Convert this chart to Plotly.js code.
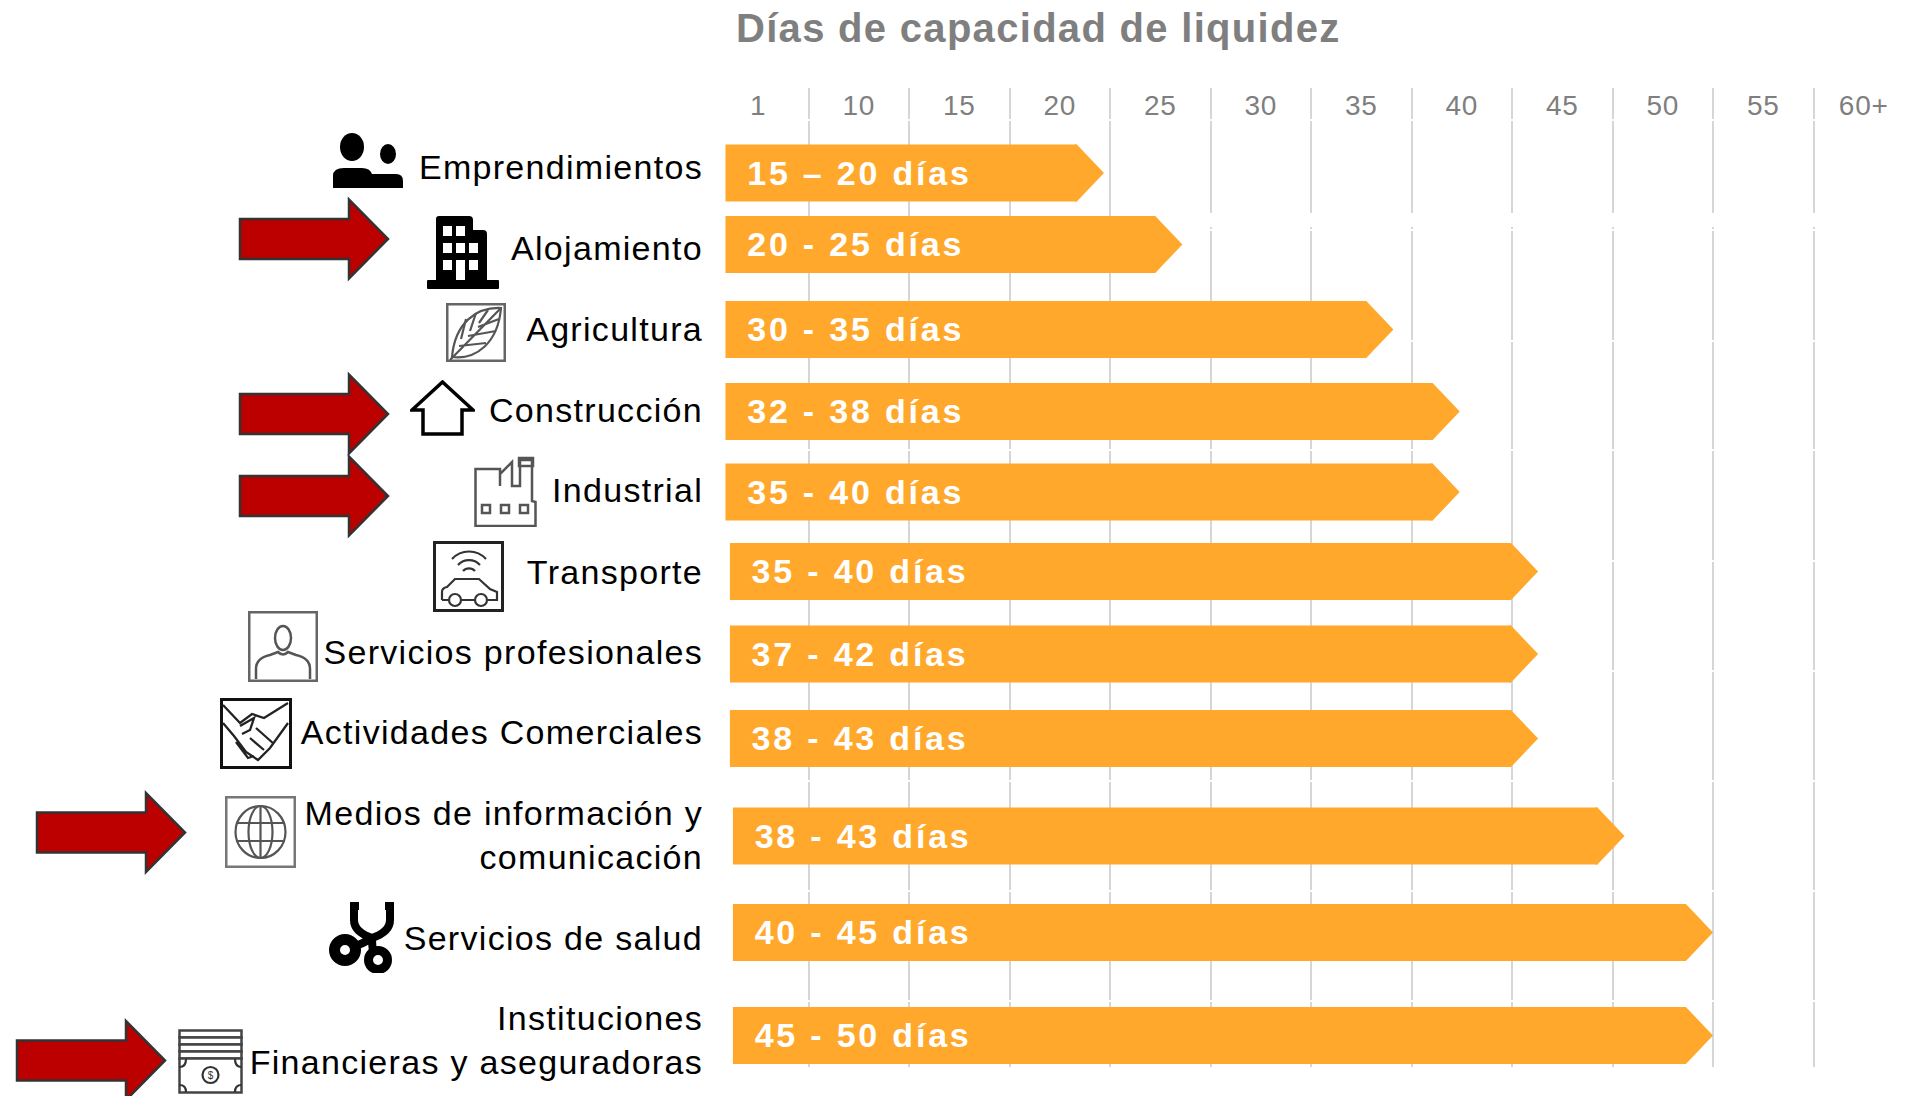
<!DOCTYPE html>
<html><head><meta charset="utf-8">
<script src="https://cdn.plot.ly/plotly-3.0.1.min.js"></script>
<style>
html,body{margin:0;padding:0;background:#fff}
#chart{width:1914px;height:1096px}
.ytick text{letter-spacing:1.3px}
.xtick text{letter-spacing:.8px}
.gtitle{letter-spacing:1.3px}
.textpoint text{letter-spacing:2.8px}
</style></head><body><div id="chart"></div>
<script>
// ---------- data ----------
const categories = ["Emprendimientos","Alojamiento","Agricultura","Construcción","Industrial","Transporte","Servicios profesionales","Actividades Comerciales","Medios de información y<br>comunicación","Servicios de salud","Instituciones<br>Financieras y aseguradoras"];
const barLabels = ["15 – 20 días","20 - 25 días","30 - 35 días","32 - 38 días","35 - 40 días","35 - 40 días","37 - 42 días","38 - 43 días","38 - 43 días","40 - 45 días","45 - 50 días"];
const barStart = [0.87,0.87,0.87,0.87,0.87,1.09,1.09,1.09,1.24,1.24,1.24];
const barEnd = [19.7,23.6,34.1,37.4,37.4,41.3,41.3,41.3,45.6,50,50];
const columnLabels = ["1","10","15","20","25","30","35","40","45","50","55","60+"];
const columnEdges = [0,5,10,15,20,25,30,35,40,45,50,55];
const columnCenters = [2.5,7.5,12.5,17.5,22.5,27.5,32.5,37.5,42.5,47.5,52.5,57.5];

// ---------- layout constants (page pixels) ----------
const W=1914,H=1096,L=708,T=88,B=1067;
const rowCenter=[173,244.5,329.5,411.5,492,571.5,654,738.5,836,932.5,1035.5];
const labelCenter=[167,248,329,410,490,572,652,732,835,938,1040];
const rowH=57, tipDays=1.35, labelInset=1.08, textDrop=3;
const rowGaps=[120,230,341,450,561,671,781,891,1001];
const ORANGE="#FFA82B", GREY="#7f7f7f";
const px=x=>(x-L)/(W-L), py=y=>(B-y)/(B-T);

// ---------- decoration: arrows ----------
function arrow(x0,cy){
  const hx=x0+109,tx=x0+148,bh=20,hh=39.5;
  const p=[[x0,cy-bh],[hx,cy-bh],[hx,cy-hh],[tx,cy],[hx,cy+hh],[hx,cy+bh],[x0,cy+bh]];
  return {type:"path",xref:"paper",yref:"paper",layer:"above",fillcolor:"#BC0000",
    line:{color:"#333333",width:2.5},
    path:"M"+p.map(q=>px(q[0])+","+py(q[1])).join("L")+"Z"};
}
const arrows=[[240,239],[240,414],[240,496],[37,832.5],[17,1060.5]].map(a=>arrow(a[0],a[1]));

// ---------- decoration: icons ----------
function svg(w,h,body){return "data:image/svg+xml;charset=utf-8,"+encodeURIComponent(
 `<svg xmlns="http://www.w3.org/2000/svg" width="${w*3}" height="${h*3}" viewBox="0 0 ${w} ${h}">${body}</svg>`);}
const box=(w,h,c,sw)=>`<rect x="${sw/2}" y="${sw/2}" width="${w-sw}" height="${h-sw}" fill="#fff" stroke="${c}" stroke-width="${sw}"/>`;
let win="";
[[16,10],[29,10],[16,27],[29,27],[42,27],[16,44],[42,44]].forEach(p=>win+=`<rect x="${p[0]}" y="${p[1]}" width="9" height="10" fill="#fff"/>`);
const icons=[
 [332,133,71,55,`<ellipse cx="20" cy="14" rx="12" ry="14" fill="#000"/><ellipse cx="56" cy="21" rx="8" ry="10" fill="#000"/><path d="M1 55V43Q1 35 12 35H30Q38 35 40 41H64Q71 41 71 48V55Z" fill="#000"/>`],
 [427,216,72,73,`<path d="M9 65V3Q9 0 12 0H42Q46 0 46 4V14H56Q60 14 60 18V65Z" fill="#000"/><rect x="0" y="64" width="72" height="9" rx="1" fill="#000"/>${win}<rect x="29" y="44" width="9" height="20" fill="#fff"/>`],
 [446,303,60,59,box(60,59,"#666",2.5)+`<g fill="none" stroke="#555" stroke-width="2.2"><path d="M55 5C30 4 9 20 6 54C30 57 52 40 55 5Z"/><path d="M4 57L54 6M15 36L20 16M24 28L30 10M33 20L42 7M13 43L40 40M22 33L50 28M32 24L53 16"/></g>`],
 [410,380,65,56,`<path d="M32.500 2L63 30H52V54H13V30H2Z" fill="#fff" stroke="#000" stroke-width="3.500" stroke-linejoin="miter"/>`],
 [474,456,63,71,`<g fill="none" stroke="#555" stroke-width="2.500"><path d="M1.500 70V13H26V30V18L38 6V30H46V4H58V30V45L61.500 46V70Z"/><rect x="45" y="2" width="14" height="8"/><rect x="8" y="49" width="8" height="8"/><rect x="27" y="49" width="8" height="8"/><rect x="46" y="49" width="8" height="8"/></g>`],
 [433,541,71,71,box(71,71,"#222",3)+`<g fill="none" stroke="#333" stroke-width="2.200"><path d="M19 18A23 23 0 0 1 53 18M25 24A15 15 0 0 1 47 24M30 30A8 8 0 0 1 42 30"/><path d="M9 59V51Q9 47 14 46L22 38H46L57 48L64 51V59H55M41 59H29M15 59H9"/><circle cx="22" cy="59" r="6"/><circle cx="48" cy="59" r="6"/></g>`],
 [248,611,70,71,box(70,71,"#666",2.5)+`<g fill="none" stroke="#555" stroke-width="2.500"><ellipse cx="35" cy="27" rx="8" ry="12"/><path d="M8 68V58Q8 47 22 44L30 41Q35 46 40 41L48 44Q62 47 62 58V68"/></g>`],
 [220,698,72,71,box(72,71,"#111",3)+`<g fill="none" stroke="#222" stroke-width="2.300"><path d="M3 7L20 25L32 16L44 20L68 5M68 25L50 50L38 62L26 54L14 38L3 25M20 28L34 20L30 32L22 36M36 30L54 46M30 40L44 52M16 44L28 60L34 58"/></g>`],
 [225,796,71,72,box(71,72,"#777",2.5)+`<g fill="none" stroke="#555" stroke-width="2.200"><ellipse cx="35.500" cy="36" rx="25" ry="26"/><ellipse cx="35.500" cy="36" rx="12" ry="26"/><path d="M35.500 10V62M11 27H60M11 45H60"/></g>`],
 [328,902,68,71,`<g fill="none" stroke="#000" stroke-width="8"><path d="M31 4H26V18Q26 30 44 36Q62 30 62 18V4H57M44 36Q34 42 27 44M44 36Q44 42 45 50"/><circle cx="17" cy="48" r="10.500" stroke-width="11"/><circle cx="50" cy="58" r="9.500" stroke-width="9"/></g>`],
 [178,1029,65,65,`<g fill="#fff" stroke="#444" stroke-width="2.500"><rect x="1.500" y="1.500" width="62" height="7"/><rect x="1.500" y="8.500" width="62" height="7"/><rect x="1.500" y="15.500" width="62" height="7"/><rect x="1.500" y="22.500" width="62" height="7"/><rect x="1.500" y="29.500" width="62" height="34"/></g><g fill="none" stroke="#333" stroke-width="2.200"><circle cx="32.500" cy="46" r="8"/><path d="M1.500 38Q8 38 8 30M63.500 38Q57 38 57 30M1.500 56Q8 56 8 63M63.500 56Q57 56 57 63"/></g><text x="32.500" y="50" font-size="10" text-anchor="middle" font-family="Liberation Sans" fill="#333">$</text>`]
];
const images=icons.map(i=>({source:svg(i[2],i[3],i[4]),xref:"paper",yref:"paper",x:px(i[0]),y:py(i[1]),sizex:i[2]/(W-L),sizey:i[3]/(B-T),xanchor:"left",yanchor:"top",sizing:"stretch",layer:"above"}));

// ---------- traces from data ----------
const barBody={type:"bar",orientation:"h",y:rowCenter,base:barStart,x:barEnd.map((e,i)=>e-tipDays-barStart[i]),width:rowH,
  marker:{color:ORANGE,line:{width:0}},hoverinfo:"skip",showlegend:false};
const tipX=[],tipY=[],seam=0.1;
barEnd.forEach((e,i)=>{const c=rowCenter[i],s=e-tipDays;
  tipX.push(s-seam,s,e,s,s-seam,null);tipY.push(c-rowH/2,c-rowH/2,c,c+rowH/2,c+rowH/2,null);});
const barTips={type:"scatter",mode:"none",x:tipX,y:tipY,fill:"toself",fillcolor:ORANGE,hoverinfo:"skip",showlegend:false};
const barText={type:"scatter",mode:"text",x:barStart.map(s=>s+labelInset),y:rowCenter.map(c=>c+textDrop),text:barLabels,textposition:"middle right",
  textfont:{family:"Liberation Sans",size:34,color:"#fff",weight:"bold"},hoverinfo:"skip",showlegend:false};

const gapShapes=rowGaps.map(g=>({type:"rect",layer:"between",xref:"x",yref:"y",x0:-1,x1:60,y0:g-1,y1:g+1,fillcolor:"#fff",line:{width:0}}));
gapShapes.push({type:"rect",layer:"between",xref:"x",yref:"y",x0:24,x1:60,y0:213,y1:227,fillcolor:"#fff",line:{width:0}});

Plotly.newPlot("chart",[barBody,barTips,barText],{
  width:W,height:H,paper_bgcolor:"#fff",plot_bgcolor:"#fff",showlegend:false,
  margin:{l:L,r:0,t:T,b:H-B,pad:0},
  title:{text:"Días de capacidad de liquidez",font:{family:"Liberation Sans",size:40,color:GREY,weight:"bold"},x:736/W,xanchor:"left",xref:"container",y:1-28/H,yanchor:"middle"},
  xaxis:{range:[0,60],side:"top",tickmode:"array",tickvals:columnCenters,ticktext:columnLabels,ticklabelposition:"inside",ticklabelstandoff:4,
    tickfont:{family:"Liberation Sans",size:28,color:GREY},ticks:"",showgrid:false,zeroline:false,showline:false,fixedrange:true,
    minor:{tickmode:"array",tickvals:columnEdges,showgrid:true,gridcolor:"#d6d6d6",gridwidth:2,ticks:""}},
  yaxis:{range:[B,T],tickmode:"array",tickvals:labelCenter,ticktext:categories,ticklabelstandoff:4,ticks:"",showgrid:false,zeroline:false,showline:false,
    tickfont:{family:"Liberation Sans",size:34,color:"#000"},fixedrange:true},
  shapes:gapShapes.concat(arrows),images:images
},{displayModeBar:false,staticPlot:true});
</script></body></html>
